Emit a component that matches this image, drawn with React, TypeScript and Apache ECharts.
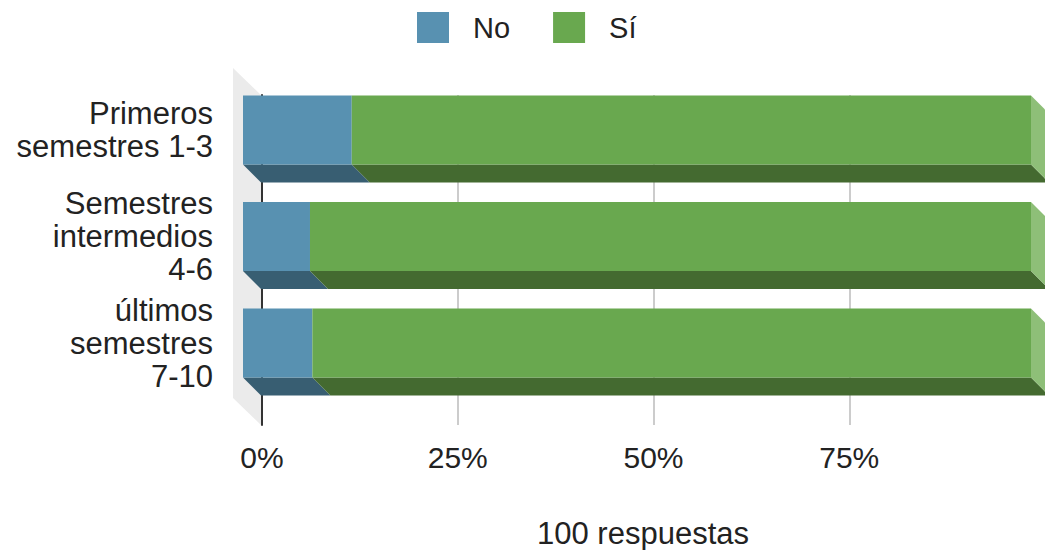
import React, { useEffect, useRef } from "react";
import * as echarts from "echarts";

const categories = ["Primeros\nsemestres 1-3", "Semestres\nintermedios\n4-6", "últimos\nsemestres\n7-10"];
const seriesNames = ["No", "Sí"];
const noValues = [13.8, 8.5, 8.8];
const siValues = [86.2, 91.5, 91.2];
const tickValues = [0, 25, 50, 75, 100];
const footerText = "100 respuestas";

const FONT = "'Liberation Sans', Arial, sans-serif";
const COLORS = {
  No: { front: "#5891b1", bottom: "#385e72", side: "#7fb0c8" },
  Sí: { front: "#69a84f", bottom: "#446a30", side: "#8ebf78" },
};
const BAR_H = 69;
const DX = 18;
const DY = 18;

function makeRender(name: string) {
  const c = (COLORS as any)[name];
  return (params: any, api: any) => {
    const cat = api.value(0);
    const start = api.value(1);
    const end = api.value(2);
    const p0 = api.coord([start, cat]);
    const p1 = api.coord([end, cat]);
    const yTop = p0[1] - BAR_H / 2;
    const yBot = yTop + BAR_H;
    const x0 = p0[0];
    const x1 = p1[0];
    const children: any[] = [
      {
        type: "polygon",
        shape: { points: [[x0, yBot], [x1, yBot], [x1 + DX, yBot + DY], [x0 + DX, yBot + DY]] },
        style: { fill: c.bottom },
      },
      {
        type: "rect",
        shape: { x: x0, y: yTop, width: x1 - x0, height: BAR_H },
        style: { fill: c.front },
      },
    ];
    if (end >= 99.999) {
      children.push({
        type: "polygon",
        shape: { points: [[x1, yTop], [x1 + DX, yTop + DY], [x1 + DX, yBot + DY], [x1, yBot]] },
        style: { fill: c.side },
      });
    }
    return { type: "group", children };
  };
}

export default function App() {
  const ref = useRef<HTMLDivElement>(null);
  useEffect(() => {
    if (!ref.current) return;
    const chart = echarts.init(ref.current, undefined, { renderer: "svg" });
    const noData = categories.map((_, i) => [i, 0, noValues[i]]);
    const siData = categories.map((_, i) => [i, noValues[i], noValues[i] + siValues[i]]);
    const option: any = {
      animation: false,
      textStyle: { fontFamily: FONT },
      legend: {
        top: 12,
        left: 417,
        icon: "rect",
        itemWidth: 32,
        itemHeight: 31,
        itemGap: 43,
        padding: 0,
        data: seriesNames,
        textStyle: { fontSize: 29, color: "#222", fontFamily: FONT, padding: [0, 0, 0, 19] },
      },
      grid: [
        { left: 243, width: 788, top: 76.75, height: 319.5 },
        { left: 262, width: 788, top: 95, height: 330 },
      ],
      xAxis: [
        { gridIndex: 0, type: "value", min: 0, max: 100, show: false },
        {
          gridIndex: 1,
          type: "value",
          min: tickValues[0],
          max: tickValues[tickValues.length - 1],
          interval: 25,
          axisLine: { show: false },
          axisTick: { show: false },
          splitLine: { show: true, showMaxLine: false, lineStyle: { color: "#cccccc", width: 2 } },
          axisLabel: {
            formatter: "{value}%",
            fontSize: 30,
            color: "#222",
            margin: 17,
            showMaxLabel: false,
            fontFamily: FONT,
          },
        },
      ],
      yAxis: [
        {
          gridIndex: 0,
          type: "category",
          data: categories,
          inverse: true,
          axisLine: { show: false },
          axisTick: { show: false },
          splitLine: { show: false },
          axisLabel: { fontSize: 31, lineHeight: 33, color: "#222", margin: 30, fontFamily: FONT },
        },
        {
          gridIndex: 1,
          type: "value",
          min: 0,
          max: 1,
          axisLine: { show: true, lineStyle: { color: "#333", width: 2 } },
          axisTick: { show: false },
          axisLabel: { show: false },
          splitLine: { show: false },
        },
      ],
      graphic: [
        {
          type: "polygon",
          z: 0,
          shape: { points: [[233, 68], [261, 95], [261, 425], [233, 398]] },
          style: { fill: "#ebebeb" },
        },
        {
          type: "text",
          x: 643,
          y: 533,
          style: {
            text: footerText,
            fontSize: 31,
            fontFamily: FONT,
            fill: "#222",
            align: "center",
            verticalAlign: "middle",
          },
        },
      ],
      series: [
        {
          name: seriesNames[0],
          type: "custom",
          xAxisIndex: 0,
          yAxisIndex: 0,
          z: 5,
          itemStyle: { color: COLORS.No.front },
          encode: { x: [1, 2], y: 0 },
          renderItem: makeRender("No"),
          data: noData,
        },
        {
          name: seriesNames[1],
          type: "custom",
          xAxisIndex: 0,
          yAxisIndex: 0,
          z: 5,
          itemStyle: { color: COLORS["Sí"].front },
          encode: { x: [1, 2], y: 0 },
          renderItem: makeRender("Sí"),
          data: siData,
        },
      ],
    };
    chart.setOption(option);
    return () => chart.dispose();
  }, []);
  return (
    <div
      ref={ref}
      style={{ position: "fixed", left: 0, top: 0, width: 1045, height: 550, background: "#fff" }}
    />
  );
}
